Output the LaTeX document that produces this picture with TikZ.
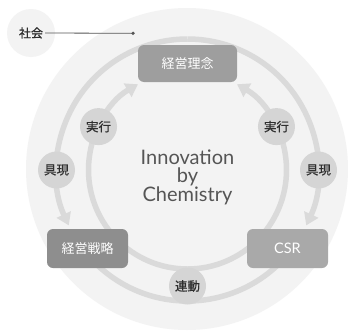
\documentclass[tikz,border=0pt]{standalone}
\usepackage{fontspec}
\setmainfont{Lato}
\newfontfamily\jp{Noto Sans CJK JP}
\newfontfamily\jpm[FakeBold=0.8]{Noto Sans CJK JP}
\usetikzlibrary{arrows.meta}
\definecolor{bgc}{HTML}{F3F3F3}
\definecolor{ringc}{HTML}{DADADA}
\definecolor{circc}{HTML}{D5D5D5}
\definecolor{labc}{HTML}{2E2E2E}
\definecolor{boxa}{HTML}{9E9E9E}
\definecolor{boxb}{HTML}{8E8E8E}
\definecolor{boxc}{HTML}{A9A9A9}
\definecolor{midc}{HTML}{555555}
\begin{document}
\begin{tikzpicture}[x=1pt, y=1pt,
  ring/.style={draw=ringc, line width=5.5pt},
  tipped/.style={-{Triangle[width=15pt,length=12pt]}},
  box/.style={rectangle, rounded corners=6pt, text=white, inner sep=0pt,
    font=\jp\fontsize{13}{13}\selectfont},
  lab/.style={circle, fill=circc, minimum size=37pt, inner sep=0pt, text=labc,
    font=\jpm\fontsize{12.5}{12.5}\selectfont}]
\useasboundingbox (0,0) rectangle (348,-332);
\fill[white] (0,0) rectangle (348,-332);
% background circles
\fill[bgc] (187,-169) circle (161pt);
\node[circle, fill=bgc, minimum size=48pt, inner sep=0pt] (shakaibg) at (31,-33) {};
\coordinate (C) at (187.5,-170);
% inner ring
\draw[ring, tipped] ([shift={(-90:99pt)}]C) arc[start angle=-90, end angle=-240, radius=99pt];
\draw[ring, tipped] ([shift={(-90:99pt)}]C) arc[start angle=-90, end angle=60, radius=99pt];
% outer ring
\draw[ring, tipped] ([shift={(90:131pt)}]C) arc[start angle=90, end angle=205, radius=131pt];
\draw[ring, tipped] ([shift={(90:131pt)}]C) arc[start angle=90, end angle=-25, radius=131pt];
\draw[ring] ([shift={(-30:131pt)}]C) arc[start angle=-30, end angle=-150, radius=131pt];
% boxes
\node[box, fill=boxa, minimum width=99pt, minimum height=37pt] (rinen) at (187.5,-63.5) {経営理念};
\node[box, fill=boxb, minimum width=81pt, minimum height=39pt] (senryaku) at (87.5,-248.5) {経営戦略};
\node[box, fill=boxc, minimum width=81pt, minimum height=39pt, font=\fontsize{14.5}{14.5}\selectfont] (csr) at (287.5,-248.5) {CSR};
% label circles
\node[lab] (jikkoL) at ([shift={(154:99pt)}]C) {実行};
\node[lab] (jikkoR) at ([shift={(26:99pt)}]C) {実行};
\node[lab] (gugenL) at ([shift={(180:131pt)}]C) {具現};
\node[lab] (gugenR) at ([shift={(0:131pt)}]C) {具現};
\node[lab] (rendou) at (187.5,-286) {連動};
% center text
\node[text=midc, align=center, font=\fontsize{20}{18.5}\selectfont] (center) at (187.5,-177) {Innovation\\by\\Chemistry};
% society
\node[text=labc, font=\jpm\fontsize{12}{12}\selectfont, inner sep=2pt] (shakai) at (31,-33) {社会};
\coordinate (dot) at (133,-33.3);
\draw[draw=midc, line width=0.8pt] (shakai.east) -- (dot);
\fill[midc] (dot) circle (1.8pt);
\end{tikzpicture}
\end{document}
